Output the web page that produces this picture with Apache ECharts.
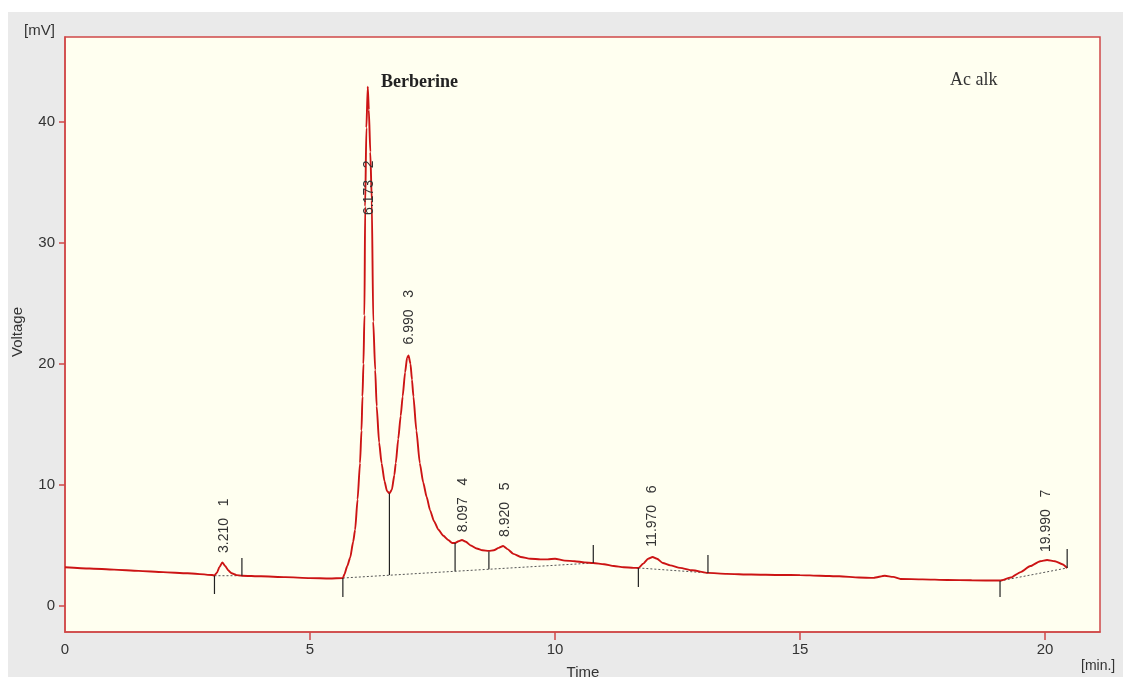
<!DOCTYPE html>
<html>
<head>
<meta charset="utf-8">
<script src="https://cdn.jsdelivr.net/npm/echarts@6/dist/echarts.min.js"></script>
<style>
    html, body { margin: 0; padding: 0; background: #ffffff; }
    #bg { position: absolute; left: 8px; top: 12px; right: 0; bottom: 0; background: #eaeaea; }
    #chart { position: absolute; left: 0; top: 0; width: 1123px; height: 677px; }
</style>
</head>
<body>
<div id="bg"></div>
<div id="chart"></div>
<script>
// 色谱图数据 - Ac alk

// 时间 [min]
const traceTime = [
    0, 0.5, 1, 1.5, 2, 2.5, 3, 3.05, 3.1, 3.15, 3.21, 3.27, 3.33, 3.4, 3.5, 3.61,
    4, 4.5, 5, 5.4, 5.67, 5.7, 5.76, 5.82, 5.88, 5.92, 5.97, 6.02, 6.05, 6.07, 6.09,
    6.11, 6.125, 6.15, 6.178, 6.2, 6.23, 6.26, 6.29, 6.33, 6.36, 6.41, 6.46, 6.52,
    6.57, 6.62, 6.67, 6.72, 6.75, 6.8, 6.85, 6.89, 6.94, 6.98, 7.01, 7.05, 7.08,
    7.11, 7.17, 7.24, 7.31, 7.38, 7.45, 7.53, 7.62, 7.72, 7.82, 7.9, 7.96, 8.03,
    8.1, 8.18, 8.28, 8.4, 8.52, 8.65, 8.75, 8.85, 8.94, 9.03, 9.15, 9.3, 9.5, 9.7,
    9.85, 10.0, 10.2, 10.4, 10.6, 10.78, 11.0, 11.2, 11.4, 11.6, 11.7, 11.8, 11.9,
    11.99, 12.08, 12.2, 12.35, 12.55, 12.8, 13.12, 13.5, 14.0, 14.6, 15.0, 15.4,
    15.8, 16.2, 16.5, 16.73, 16.9, 17.05, 17.5, 18.0, 18.5, 19.08, 19.3, 19.5,
    19.7, 19.9, 20.04, 20.2, 20.35, 20.45
];
// 电压 [mV]
const traceVolt = [
    3.2, 3.1, 3.0, 2.9, 2.8, 2.7, 2.56, 2.52, 2.75, 3.2, 3.6, 3.3, 2.95, 2.7, 2.55, 2.5,
    2.45, 2.38, 2.3, 2.27, 2.3, 2.6, 3.3, 4.0, 5.3, 6.3, 8.8, 11.8, 14.5, 17.3, 20.0,
    24.0, 33.0, 39.5, 42.9, 41.0, 37.5, 33.5, 23.5, 19.5, 16.5, 13.5, 11.8, 10.3,
    9.5, 9.3, 9.6, 10.8, 11.8, 13.8, 15.7, 17.3, 19.3, 20.5, 20.7, 20.0, 18.7,
    17.3, 14.5, 11.8, 10.2, 9.0, 7.9, 7.0, 6.3, 5.8, 5.45, 5.2, 5.2, 5.35,
    5.45, 5.3, 5.0, 4.75, 4.6, 4.55, 4.6, 4.8, 4.95, 4.7, 4.3, 4.05, 3.9, 3.85,
    3.85, 3.9, 3.75, 3.7, 3.6, 3.55, 3.45, 3.3, 3.2, 3.15, 3.14, 3.5, 3.9,
    4.05, 3.9, 3.55, 3.35, 3.15, 2.95, 2.73, 2.65, 2.6, 2.56, 2.55, 2.5,
    2.45, 2.35, 2.32, 2.5, 2.4, 2.23, 2.2, 2.15, 2.12, 2.1, 2.35, 2.8,
    3.3, 3.7, 3.8, 3.7, 3.45, 3.14
];

// 积分标记 (竖线): 时间, 上端, 下端
const markTime   = [3.05, 3.61, 5.67, 6.62, 7.96, 8.65, 10.78, 11.7, 13.12, 19.08, 20.45];
const markTop    = [2.5,  3.97, 2.31, 9.3,  5.2,  4.5,  5.04,  3.14, 4.21,  2.07,  4.71];
const markBottom = [0.99, 2.5,  0.74, 2.55, 2.87, 3.04, 3.55,  1.57, 2.73,  0.74,  3.14];

// 基线段: 起点时间, 起点值, 终点时间, 终点值
const baseStartT = [3.05, 5.67, 11.7, 19.08];
const baseStartV = [2.5,  2.31, 3.14, 2.07];
const baseEndT   = [3.61, 10.78, 13.12, 20.45];
const baseEndV   = [2.5,  3.55, 2.73, 3.14];

// 峰标签
const peakTime  = [3.24, 6.2, 7.02, 8.12, 8.98, 11.98, 20.02];
const peakLabelV = [4.38, 32.3, 21.6, 6.1, 5.7, 4.9, 4.46];
const peakText  = ['3.210   1', '6.173   2', '6.990   3', '8.097   4', '8.920   5', '11.970   6', '19.990   7'];

// 坐标轴刻度
const xTicks = [0, 5, 10, 15, 20];
const yTicks = [0, 10, 20, 30, 40];

const RED = '#d04848';
const FONT = 'Arial, "Liberation Sans", sans-serif';
const SERIF = '"Liberation Serif", "Times New Roman", serif';

const chart = echarts.init(document.getElementById('chart'));

const option = {
    animation: false,
    backgroundColor: 'transparent',
    grid: {
        left: 65, top: 37, right: 23, bottom: 45,
        show: true,
        backgroundColor: '#fffff0',
        borderColor: RED,
        borderWidth: 1.5
    },
    xAxis: {
        type: 'value',
        min: 0,
        max: 21.12,
        axisLine: { show: true, onZero: false, lineStyle: { color: RED, width: 1.5 } },
        axisTick: { show: true, length: 8, customValues: [5, 10, 15, 20], lineStyle: { color: RED, width: 1.5 } },
        axisLabel: { customValues: xTicks, margin: 10, color: '#333', fontSize: 15, fontFamily: FONT },
        splitLine: { show: false }
    },
    yAxis: {
        type: 'value',
        min: -2.15,
        max: 47,
        axisLine: { show: true, onZero: false, lineStyle: { color: RED, width: 1.5 } },
        axisTick: { show: true, length: 6, customValues: yTicks, lineStyle: { color: RED, width: 1.5 } },
        axisLabel: { customValues: yTicks, margin: 10, color: '#333', fontSize: 15, fontFamily: FONT },
        splitLine: { show: false }
    },
    graphic: [
        { type: 'text', x: 24, y: 31, style: { text: '[mV]', font: '15px ' + FONT, fill: '#333', textAlign: 'left', textVerticalAlign: 'middle' } },
        { type: 'text', x: 18, y: 332, rotation: Math.PI / 2, style: { text: 'Voltage', font: '15px ' + FONT, fill: '#333', textAlign: 'center', textVerticalAlign: 'middle' } },
        { type: 'text', x: 583, y: 673, style: { text: 'Time', font: '15px ' + FONT, fill: '#333', textAlign: 'center', textVerticalAlign: 'middle' } },
        { type: 'text', x: 1081, y: 666, style: { text: '[min.]', font: '14px ' + FONT, fill: '#333', textAlign: 'left', textVerticalAlign: 'middle' } },
        { type: 'text', x: 381, y: 82, style: { text: 'Berberine', font: 'bold 18px ' + SERIF, fill: '#222', textAlign: 'left', textVerticalAlign: 'middle' } },
        { type: 'text', x: 950, y: 80, style: { text: 'Ac alk', font: '18px ' + SERIF, fill: '#333', textAlign: 'left', textVerticalAlign: 'middle' } }
    ],
    series: [
        {
            // 基线 (虚线)
            type: 'custom',
            data: baseStartT.map((t, i) => [t, baseStartV[i], baseEndT[i], baseEndV[i]]),
            renderItem: function (params, api) {
                const p1 = api.coord([api.value(0), api.value(1)]);
                const p2 = api.coord([api.value(2), api.value(3)]);
                return {
                    type: 'line',
                    shape: { x1: p1[0], y1: p1[1], x2: p2[0], y2: p2[1] },
                    style: { stroke: '#555', lineWidth: 1, lineDash: [2, 2] }
                };
            },
            z: 3
        },
        {
            // 色谱曲线
            type: 'line',
            data: traceTime.map((t, i) => [t, traceVolt[i]]),
            showSymbol: false,
            smooth: 0.2,
            smoothMonotone: 'x',
            lineStyle: { color: '#cc1414', width: 1.9 },
            z: 4
        },
        {
            // 积分标记竖线
            type: 'custom',
            data: markTime.map((t, i) => [t, markTop[i], markBottom[i]]),
            renderItem: function (params, api) {
                const p1 = api.coord([api.value(0), api.value(1)]);
                const p2 = api.coord([api.value(0), api.value(2)]);
                return {
                    type: 'line',
                    shape: { x1: p1[0], y1: p1[1], x2: p2[0], y2: p2[1] },
                    style: { stroke: '#222', lineWidth: 1.2 }
                };
            },
            z: 5
        },
        {
            // 峰标签 (竖排)
            type: 'custom',
            data: peakTime.map((t, i) => [t, peakLabelV[i]]),
            renderItem: function (params, api) {
                const p = api.coord([api.value(0), api.value(1)]);
                return {
                    type: 'text',
                    x: p[0],
                    y: p[1],
                    rotation: Math.PI / 2,
                    style: {
                        text: peakText[params.dataIndex],
                        font: '14px ' + FONT,
                        fill: '#333',
                        textAlign: 'left',
                        textVerticalAlign: 'middle',
                        align: 'left',
                        verticalAlign: 'middle'
                    }
                };
            },
            z: 6
        }
    ]
};

chart.setOption(option);
</script>
</body>
</html>
